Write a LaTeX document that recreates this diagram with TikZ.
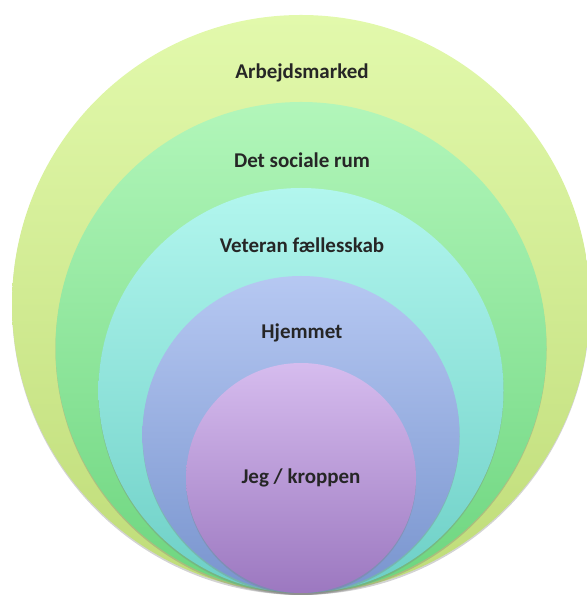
\documentclass[tikz,border=0pt]{standalone}
\usepackage{fontspec}
\setmainfont{Carlito}
\usetikzlibrary{shadows}

\definecolor{arbtop}{HTML}{E2F9AC}
\definecolor{arbbot}{HTML}{BFDC78}
\definecolor{soctop}{HTML}{B2F6BA}
\definecolor{socbot}{HTML}{6CD57E}
\definecolor{vettop}{HTML}{B2F6EE}
\definecolor{vetbot}{HTML}{6CCFC6}
\definecolor{hjmtop}{HTML}{B6C8F2}
\definecolor{hjmbot}{HTML}{7894CE}
\definecolor{jegtop}{HTML}{D6BCEE}
\definecolor{jegbot}{HTML}{9C78C0}

\begin{document}
\begin{tikzpicture}[x=1pt,y=1pt,
  ring/.style={circle,inner sep=0pt,outer sep=0pt,draw=none,anchor=south,
    drop shadow={shadow xshift=0pt,shadow yshift=-2pt,opacity=0.35}},
  lbl/.style={font=\bfseries\fontsize{21}{25}\selectfont,text=black!85}]

\useasboundingbox (0,0) rectangle (586,599);

%\tikzset{every node/.style={draw}}
\coordinate (base) at (301,6);

\node[ring,minimum size=578pt,top color=arbtop,bottom color=arbbot] (arb) at (base) {};
\node[ring,minimum size=491pt,top color=soctop,bottom color=socbot] (soc) at (base) {};
\node[ring,minimum size=405pt,top color=vettop,bottom color=vetbot] (vet) at (base) {};
\node[ring,minimum size=317pt,top color=hjmtop,bottom color=hjmbot] (hjm) at (base) {};
\node[ring,minimum size=230pt,top color=jegtop,bottom color=jegbot] (jeg) at (base) {};

\node[lbl] (arbtxt) at (302,526) {Arbejdsmarked};
\node[lbl] (soctxt) at (302,439) {Det sociale rum};
\node[lbl] (vettxt) at (302,354) {Veteran fællesskab};
\node[lbl] (hjmtxt) at (302,266) {Hjemmet};
\node[lbl] (jegtxt) at (jeg.center) {Jeg / kroppen};
\end{tikzpicture}
\end{document}
